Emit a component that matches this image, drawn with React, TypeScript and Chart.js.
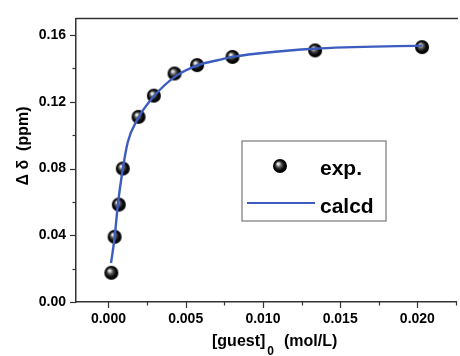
import React, { useEffect, useRef } from 'react';
import { Chart, registerables } from 'chart.js';

Chart.register(...registerables);

// Experimental points
const expX = [0.00019, 0.0004, 0.00067, 0.00093, 0.00195, 0.00294, 0.00428, 0.00574, 0.00803, 0.01338, 0.0203];
const expY = [0.0175, 0.0391, 0.0584, 0.080, 0.111, 0.1237, 0.137, 0.142, 0.1469, 0.1508, 0.1528];

// Calculated (fitted) curve
const calcdX = [0.00017, 0.0004, 0.00061, 0.00089, 0.00125, 0.00188, 0.00294, 0.00432, 0.0058, 0.00707, 0.00803, 0.0133, 0.0203];
const calcdY = [0.0234, 0.0387, 0.0584, 0.0775, 0.0958, 0.1095, 0.1233, 0.1351, 0.142, 0.1449, 0.1469, 0.1518, 0.1537];

const xTicks = [0, 0.005, 0.01, 0.015, 0.02];
const xMinorTicks = [0.0025, 0.0075, 0.0125, 0.0175, 0.0225];
const yTicks = [0, 0.04, 0.08, 0.12, 0.16];
const yMinorTicks = [0.02, 0.06, 0.1, 0.14];

const FONT = "'Liberation Sans', Arial, Helvetica, sans-serif";
const LINE_COLOR = '#3d5cc0';
const AXIS_COLOR = '#333333';

function makeBall(r: number): HTMLCanvasElement {
  const size = r * 2 + 2;
  const c = document.createElement('canvas');
  c.width = size;
  c.height = size;
  const g = c.getContext('2d')!;
  const cx = size / 2;
  const cy = size / 2;
  const grad = g.createRadialGradient(cx - r * 0.3, cy - r * 0.35, 0, cx, cy, r);
  grad.addColorStop(0, '#ffffff');
  grad.addColorStop(0.15, '#d8d8d8');
  grad.addColorStop(0.4, '#555555');
  grad.addColorStop(0.7, '#0a0a0a');
  grad.addColorStop(1, '#000000');
  g.fillStyle = grad;
  g.beginPath();
  g.arc(cx, cy, r, 0, Math.PI * 2);
  g.fill();
  return c;
}

export default function App() {
  const ref = useRef<HTMLCanvasElement | null>(null);

  useEffect(() => {
    if (!ref.current) return;
    const ball = makeBall(7);

    const decor = {
      id: 'decor',
      afterDatasetsDraw(chart: any) {
        const ctx = chart.ctx as CanvasRenderingContext2D;
        const area = chart.chartArea;
        const xs = chart.scales.x;
        const ys = chart.scales.y;
        ctx.save();
        ctx.strokeStyle = AXIS_COLOR;
        ctx.lineWidth = 1.5;
        // top frame line
        ctx.beginPath();
        ctx.moveTo(area.left, area.top);
        ctx.lineTo(area.right + 2, area.top);
        ctx.stroke();
        // ticks
        ctx.lineWidth = 1.2;
        xTicks.forEach((v) => {
          const px = Math.round(xs.getPixelForValue(v)) + 0.5;
          ctx.beginPath();
          ctx.moveTo(px, area.bottom);
          ctx.lineTo(px, area.bottom + 6);
          ctx.stroke();
        });
        xMinorTicks.forEach((v) => {
          const px = Math.round(xs.getPixelForValue(v)) + 0.5;
          ctx.beginPath();
          ctx.moveTo(px, area.bottom);
          ctx.lineTo(px, area.bottom + 3.5);
          ctx.stroke();
        });
        yTicks.forEach((v) => {
          const py = Math.round(ys.getPixelForValue(v)) + 0.5;
          ctx.beginPath();
          ctx.moveTo(area.left, py);
          ctx.lineTo(area.left - 6, py);
          ctx.stroke();
        });
        yMinorTicks.forEach((v) => {
          const py = Math.round(ys.getPixelForValue(v)) + 0.5;
          ctx.beginPath();
          ctx.moveTo(area.left, py);
          ctx.lineTo(area.left - 3.5, py);
          ctx.stroke();
        });

        // Y axis title
        ctx.fillStyle = '#000';
        ctx.save();
        ctx.translate(24, 146);
        ctx.rotate(-Math.PI / 2);
        ctx.font = `bold 16px ${FONT}`;
        ctx.textAlign = 'center';
        ctx.textBaseline = 'middle';
        ctx.fillText('\u0394 \u03b4  (ppm)', 0, 0);
        ctx.restore();

        // X axis title with subscript
        ctx.textAlign = 'left';
        ctx.textBaseline = 'alphabetic';
        ctx.font = `bold 16px ${FONT}`;
        let x = 212;
        const base = 346;
        ctx.fillText('[guest]', x, base);
        x += ctx.measureText('[guest]').width + 2;
        ctx.font = `bold 12px ${FONT}`;
        ctx.fillText('0', x, base + 9);
        x += ctx.measureText('0').width + 10;
        ctx.font = `bold 16px ${FONT}`;
        ctx.fillText('(mol/L)', x, base);

        // Legend box
        ctx.strokeStyle = '#777777';
        ctx.lineWidth = 1.2;
        ctx.strokeRect(242, 141, 144, 80);
        ctx.drawImage(ball, 280 - ball.width / 2, 166 - ball.height / 2);
        ctx.strokeStyle = LINE_COLOR;
        ctx.lineWidth = 2.2;
        ctx.beginPath();
        ctx.moveTo(247, 203);
        ctx.lineTo(315, 203);
        ctx.stroke();
        ctx.fillStyle = '#000';
        ctx.font = `bold 21px ${FONT}`;
        ctx.fillText('exp.', 320, 175);
        ctx.fillText('calcd', 320, 213);
        ctx.restore();
      },
    };

    const chart = new Chart(ref.current, {
      type: 'scatter',
      data: {
        datasets: [
          {
            label: 'calcd',
            data: calcdX.map((v, i) => ({ x: v, y: calcdY[i] })),
            showLine: true,
            borderColor: LINE_COLOR,
            borderWidth: 2.4,
            pointRadius: 0,
            cubicInterpolationMode: 'monotone',
            fill: false,
          },
          {
            label: 'exp.',
            data: expX.map((v, i) => ({ x: v, y: expY[i] })),
            showLine: false,
            pointStyle: ball as any,
            pointRadius: 7,
          },
        ],
      },
      options: {
        responsive: false,
        animation: false,
        layout: { padding: { top: 14, right: 1, left: 0, bottom: 0 } },
        plugins: {
          legend: { display: false },
          tooltip: { enabled: false },
          title: { display: false },
        },
        scales: {
          x: {
            type: 'linear',
            min: -0.0021,
            max: 0.0225,
            afterFit: (s: any) => {
              s.height = 54;
            },
            afterBuildTicks: (s: any) => {
              s.ticks = xTicks.map((v) => ({ value: v }));
            },
            ticks: {
              padding: 9,
              color: '#000',
              font: { family: FONT, size: 14, weight: 'bold' },
              callback: (v: any) => Number(v).toFixed(3),
              maxRotation: 0,
              autoSkip: false,
            },
            grid: { display: false, drawTicks: false },
            border: { display: true, color: AXIS_COLOR, width: 1.5 },
          },
          y: {
            type: 'linear',
            min: 0,
            max: 0.17,
            afterFit: (s: any) => {
              s.width = 76;
            },
            afterBuildTicks: (s: any) => {
              s.ticks = yTicks.map((v) => ({ value: v }));
            },
            ticks: {
              padding: 10,
              color: '#000',
              font: { family: FONT, size: 14, weight: 'bold' },
              callback: (v: any) => Number(v).toFixed(2),
              autoSkip: false,
            },
            grid: { display: false, drawTicks: false },
            border: { display: true, color: AXIS_COLOR, width: 1.5 },
          },
        },
      },
      plugins: [decor],
    } as any);

    return () => chart.destroy();
  }, []);

  return (
    <div style={{ position: 'fixed', left: 0, top: 0, width: 460, height: 356, overflow: 'hidden', background: '#fff' }}>
      <canvas ref={ref} width={464} height={356} style={{ display: 'block' }} />
    </div>
  );
}
